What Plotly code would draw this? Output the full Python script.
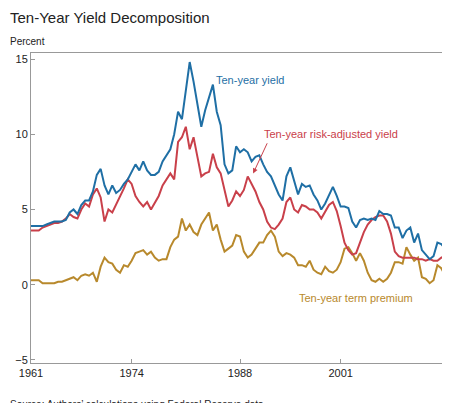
import plotly.graph_objs as go

# semiannual readings, 1961.0 .. 2015.0
years = [1961 + 0.5 * i for i in range(109)]

ten_year_yield = [
    3.9, 3.9, 3.9, 3.9, 4.0, 4.1, 4.2, 4.2, 4.2, 4.3,
    4.8, 5.0, 4.7, 5.3, 5.6, 5.6, 6.2, 7.3, 7.7, 6.6,
    6.0, 6.6, 6.1, 6.3, 6.7, 7.0, 7.5, 8.0, 7.6, 8.2,
    7.6, 7.3, 7.3, 7.5, 8.2, 8.6, 9.0, 10.0, 11.5, 11.0,
    13.0, 14.8, 13.5, 12.0, 10.5, 11.6, 12.5, 13.3, 11.5, 10.6,
    8.0, 7.4, 7.6, 9.2, 8.8, 9.0, 8.8, 8.2, 8.5, 8.6,
    8.0, 7.5, 7.2, 6.6, 6.0, 5.6, 7.2, 7.8, 6.8, 6.0,
    6.7, 6.5, 6.6, 6.0, 5.6, 5.0, 5.4, 6.0, 6.5, 5.9,
    5.2, 5.2, 5.1, 4.2, 3.8, 4.3, 4.4, 4.3, 4.4, 4.3,
    4.9, 4.7, 4.7, 4.6, 3.8, 3.8, 3.1, 3.6, 3.8, 2.8,
    3.4, 2.3, 2.0, 1.7, 1.9, 2.8, 2.7, 2.4, 2.2,
]
risk_adjusted = [
    3.6, 3.6, 3.6, 3.8, 3.9, 4.0, 4.1, 4.1, 4.2, 4.4,
    4.7, 4.5, 4.4, 5.0, 5.4, 5.2, 6.0, 6.4, 5.8, 4.2,
    5.0, 4.8, 5.3, 5.8, 6.4, 7.0, 6.7, 5.9, 5.5, 5.2,
    5.5, 5.0, 5.5, 5.9, 6.6, 7.0, 7.4, 7.0, 9.5, 9.8,
    10.5, 9.0, 9.8, 8.5, 7.2, 7.4, 7.5, 8.7, 7.8, 7.4,
    6.2, 5.2, 5.6, 6.2, 5.9, 6.3, 7.2, 6.7, 6.2, 5.5,
    5.0, 4.2, 3.8, 3.7, 4.0, 4.4, 5.5, 5.8, 5.0, 4.8,
    5.3, 5.2, 5.0, 5.0, 4.8, 4.4, 4.9, 5.3, 5.5, 4.9,
    3.9, 2.8, 2.3, 2.0, 2.1, 2.8, 3.5, 4.0, 4.3, 4.5,
    4.6, 4.6, 4.2, 3.4, 2.2, 1.9, 1.8, 1.8, 1.8, 1.8,
    1.7, 1.7, 1.6, 1.7, 1.6, 1.6, 1.8, 1.9, 2.1,
]
term_premium = [
    0.3, 0.3, 0.3, 0.1, 0.1, 0.1, 0.1, 0.2, 0.2, 0.3,
    0.4, 0.5, 0.3, 0.6, 0.7, 0.6, 0.8, 0.2, 1.2, 1.8,
    1.5, 1.4, 1.0, 0.8, 1.3, 1.2, 1.6, 2.1, 2.2, 2.3,
    2.0, 2.2, 1.8, 1.6, 1.7, 1.7, 2.5, 3.0, 3.2, 4.4,
    3.6, 4.0, 3.5, 3.3, 4.0, 4.4, 4.8, 3.6, 4.0, 3.0,
    2.2, 2.4, 2.6, 3.3, 3.2, 2.2, 1.8, 2.0, 2.4, 2.8,
    2.8, 3.3, 3.6, 3.2, 2.2, 1.9, 2.1, 2.0, 1.8, 1.3,
    1.3, 1.2, 1.6, 1.0, 0.8, 0.7, 1.2, 0.9, 0.8, 1.0,
    1.5, 2.4, 2.5, 2.1, 1.6, 2.1, 1.6, 0.8, 0.3, 0.2,
    0.4, 0.2, 0.4, 0.8, 1.5, 1.5, 1.4, 2.5, 2.0, 1.6,
    1.8, 0.5, 0.4, 0.1, 0.3, 1.3, 1.1, 0.6, 0.3,
]
tick_years = [1961, 1974, 1988, 2001, 2015]

BLUE = "#1f6fa5"
RED = "#c9404a"
GOLD = "#b8892c"

fig = go.Figure()
for ys, col in [(term_premium, GOLD), (risk_adjusted, RED), (ten_year_yield, BLUE)]:
    fig.add_trace(go.Scatter(x=years, y=ys, mode="lines",
                             line=dict(color=col, width=2), showlegend=False))

fnt = "Liberation Sans, Arial, sans-serif"
fig.update_layout(
    width=450, height=403,
    margin=dict(l=23, r=9, t=45, b=48, autoexpand=False),
    plot_bgcolor="white", paper_bgcolor="white",
    font=dict(family=fnt, size=11, color="#222"),
    xaxis=dict(range=[1961, 2015], tickvals=tick_years, ticktext=[str(y) for y in tick_years],
               showgrid=False, zeroline=False, showline=True, mirror=True, automargin=False,
               linecolor="#999", linewidth=1, ticks="inside", ticklen=4, tickcolor="#999"),
    yaxis=dict(range=[-5.2, 15.4], tickvals=[-5, 0, 5, 10, 15], automargin=False,
               showgrid=False, zeroline=False, showline=True, mirror=True,
               linecolor="#999", linewidth=1, ticks="inside", ticklen=4, tickcolor="#999"),
    annotations=[
        dict(x=0, y=1.08, xref="paper", yref="paper", xshift=-23, xanchor="left",
             yanchor="bottom", showarrow=False, text="Ten-Year Yield Decomposition",
             font=dict(size=15)),
        dict(x=0, y=1.012, xref="paper", yref="paper", xshift=-23, xanchor="left",
             yanchor="bottom", showarrow=False, text="Percent", font=dict(size=10)),
        dict(x=0, y=-0.135, xref="paper", yref="paper", xshift=-23, xanchor="left",
             yanchor="middle", showarrow=False,
             text="Source: Authors\u2019 calculations using Federal Reserve data.",
             font=dict(size=10)),
        dict(x=1984.6, y=13.6, xanchor="left", showarrow=False, text="Ten-year yield",
             font=dict(size=11, color=BLUE)),
        dict(x=1990.8, y=10.0, xanchor="left", showarrow=False,
             text="Ten-year risk-adjusted yield", font=dict(size=11, color=RED)),
        dict(x=1989.7, y=7.4, ax=1991.6, ay=9.5, axref="x", ayref="y", showarrow=True,
             arrowhead=2, arrowsize=1, arrowwidth=1, arrowcolor=RED, text=""),
        dict(x=1995.3, y=-0.9, xanchor="left", showarrow=False,
             text="Ten-year term premium", font=dict(size=11, color=GOLD)),
    ],
)

fig.write_html("out.html")
